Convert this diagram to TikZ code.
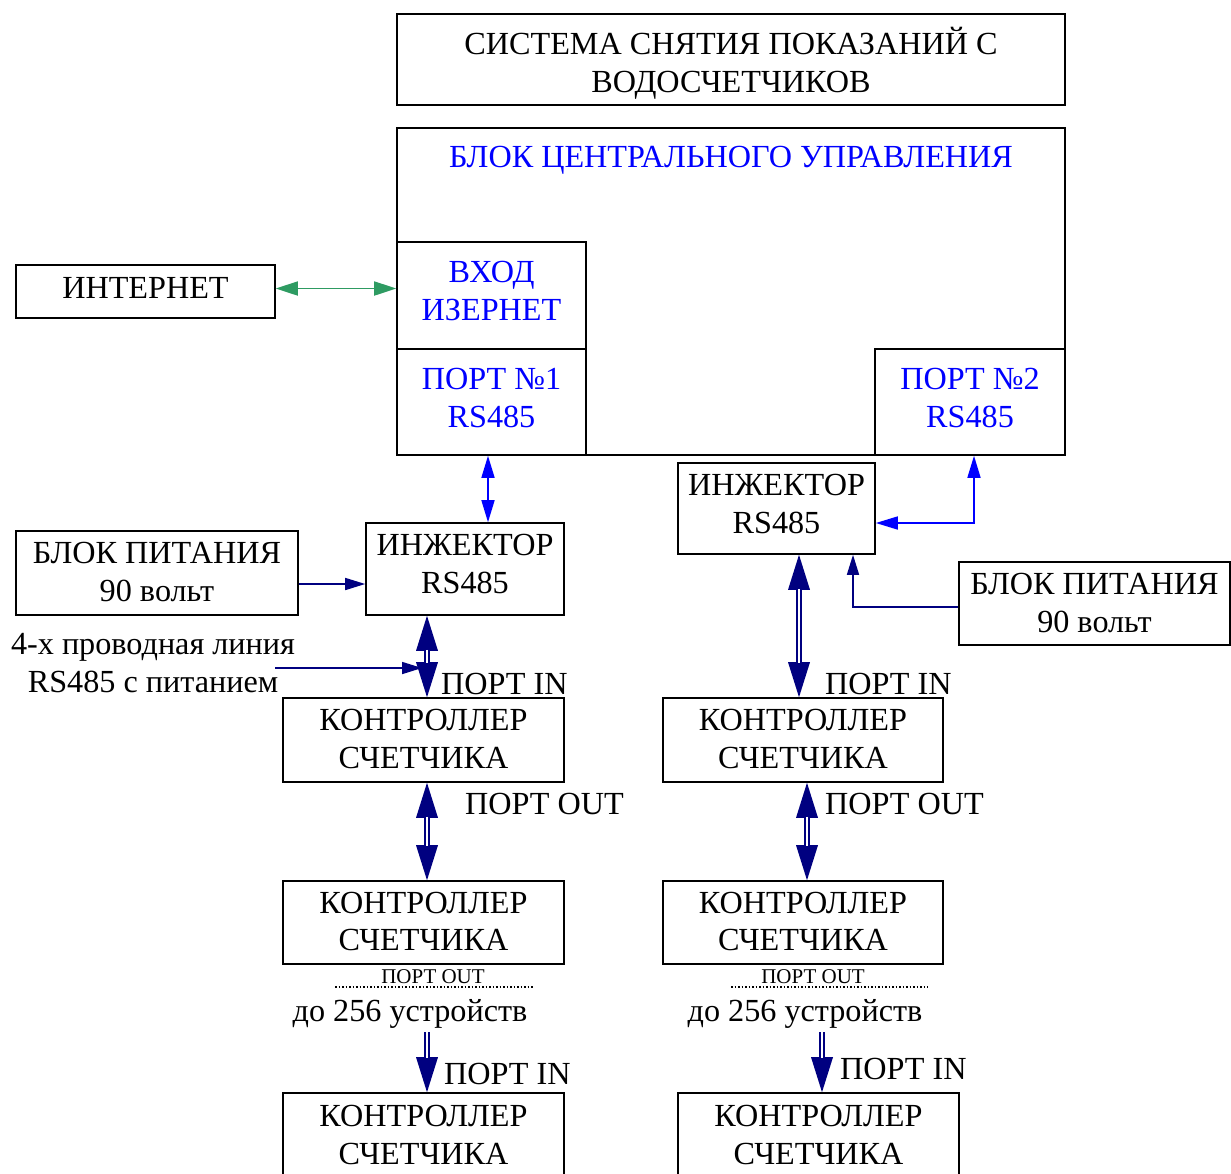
\documentclass[tikz,border=0pt]{standalone}
\usepackage{fontspec}
\setmainfont{Liberation Serif}
\usetikzlibrary{arrows.meta,calc}
\definecolor{navyc}{RGB}{0,0,128}
\definecolor{bluec}{RGB}{0,0,255}
\definecolor{greenc}{RGB}{46,155,98}
\tikzset{
  DT/.tip={Triangle[width=22pt,length=35pt,line width=0pt]},
  BT/.tip={Triangle[width=13pt,length=22pt]},
  NT/.tip={Triangle[width=12pt,length=20pt]},
  GT/.tip={Triangle[width=14pt,length=22pt]}
}
\begin{document}
\begin{tikzpicture}[x=1pt,y=-1pt,
  bigfont/.style={font=\fontsize{32.2}{37.5}\selectfont},
  box/.style={draw=black, line width=1.6pt, inner sep=0pt, align=center, bigfont, text depth=0pt, text height=56pt},
  th/.style={text height=#1},
  bluetext/.style={text=bluec},
  lbl/.style={inner sep=0pt, bigfont, anchor=west},
  smalllbl/.style={inner sep=0pt, font=\fontsize{21}{24}\selectfont},
  dblout/.style={draw=navyc, line width=6pt},
  dblin/.style={draw=white, line width=2pt},
  sdblout/.style={draw=navyc, line width=5.5pt},
  sdblin/.style={draw=white, line width=1.6pt},
  barrow/.style={draw=bluec, line width=1.6pt, BT-BT},
  narrow/.style={draw=navyc, line width=1.6pt, -NT},
  garrow/.style={draw=greenc, line width=1.8pt, GT-GT},
  dots/.style={draw=black, line width=1.5pt, dotted}
]
\useasboundingbox (0,0) rectangle (1231,1173);
\fill[white] (0,0) rectangle (1231,1173);

% top part
\node[box, th=65pt, minimum width=668pt, minimum height=91pt] (title) at (731,59.5) {СИСТЕМА СНЯТИЯ ПОКАЗАНИЙ С\\ВОДОСЧЕТЧИКОВ};
\node[box, th=0pt, minimum width=668pt, minimum height=327pt] (cbu) at (731,291.5) {};
\node[inner sep=0pt, bigfont, bluetext] (cbuT) at (731,160) {БЛОК ЦЕНТРАЛЬНОГО УПРАВЛЕНИЯ};
\node[box, th=49pt, bluetext, minimum width=189pt, minimum height=107pt] (eth) at (491.5,295.5) {ВХОД\\ИЗЕРНЕТ};
\node[box, th=50pt, bluetext, minimum width=189pt, minimum height=106pt] (port1) at (491.5,402) {ПОРТ №1\\RS485};
\node[box, th=50pt, bluetext, minimum width=190pt, minimum height=106pt] (port2) at (970,402) {ПОРТ №2\\RS485};
\node[box, th=14pt, minimum width=259pt, minimum height=53pt] (inet) at (145.5,291.5) {ИНТЕРНЕТ};

% left column
\node[box, th=48pt, minimum width=198pt, minimum height=92pt] (injL) at (465,569) {ИНЖЕКТОР\\RS485};
\node[box, th=56pt, minimum width=282pt, minimum height=84pt] (pwrL) at (157,573) {БЛОК ПИТАНИЯ\\90 вольт};
\node[inner sep=0pt, align=center, bigfont] (wire) at (153,663) {4-х проводная линия\\RS485 с питанием};
\node[box, minimum width=281pt, minimum height=84pt] (c1) at (423.5,740) {КОНТРОЛЛЕР\\СЧЕТЧИКА};
\node[box, minimum width=281pt, minimum height=83pt] (c2) at (423.5,922.5) {КОНТРОЛЛЕР\\СЧЕТЧИКА};
\node[box, th=58pt, minimum width=281pt, minimum height=84pt] (c3) at (423.5,1135) {КОНТРОЛЛЕР\\СЧЕТЧИКА};

% right column
\node[box, th=49pt, minimum width=197pt, minimum height=91pt] (injR) at (776.5,508.5) {ИНЖЕКТОР\\RS485};
\node[box, th=57pt, minimum width=271pt, minimum height=83pt] (pwrR) at (1094.5,603.5) {БЛОК ПИТАНИЯ\\90 вольт};
\node[box, minimum width=280pt, minimum height=84pt] (r1) at (803,740) {КОНТРОЛЛЕР\\СЧЕТЧИКА};
\node[box, minimum width=280pt, minimum height=83pt] (r2) at (803,922.5) {КОНТРОЛЛЕР\\СЧЕТЧИКА};
\node[box, th=58pt, minimum width=281pt, minimum height=84pt] (r3) at (818.5,1135) {КОНТРОЛЛЕР\\СЧЕТЧИКА};

% labels
\node[lbl] (inL1) at (441,684) {ПОРТ IN};
\node[lbl] (outL1) at (465,804) {ПОРТ OUT};
\node[lbl] (inR1) at (825,684) {ПОРТ IN};
\node[lbl] (outR1) at (825,804) {ПОРТ OUT};
\node[lbl] (inL2) at (444,1074) {ПОРТ IN};
\node[lbl] (inR2) at (840,1069) {ПОРТ IN};
\node[smalllbl] (soL) at (433,977) {ПОРТ OUT};
\node[smalllbl] (soR) at (813,977) {ПОРТ OUT};
\node[inner sep=0pt, bigfont, anchor=base] (upL) at (410,1021) {до 256 устройств};
\node[inner sep=0pt, bigfont, anchor=base] (upR) at (805,1021) {до 256 устройств};
\coordinate (dLa) at (335,987); \coordinate (dLb) at (533,987);
\coordinate (dRa) at (731,987); \coordinate (dRb) at (928,987);
\draw[dots] (dLa) -- (dLb);
\draw[dots] (dRa) -- (dRb);

% connectors top
\draw[garrow] ([yshift=3pt]inet.east) -- ([yshift=3pt]inet.east -| cbu.west);
\draw[barrow] ([xshift=-3.5pt]port1.south) -- ([xshift=-3.5pt]port1.south |- injL.north);
\draw[barrow] ([xshift=4pt]port2.south) |- ([yshift=-14.5pt]injR.east);
\draw[narrow] ([yshift=-11pt]pwrL.east) -- ([yshift=-11pt]pwrL.east -| injL.west);
\draw[narrow] ([yshift=-3.5pt]pwrR.west) -| ([xshift=76.5pt]injR.south);

% wire feed
\coordinate (feedA) at (275,668);
\coordinate (feedB) at (422,668);
\draw[narrow] (feedA) -- (feedB);

% double arrows left
\coordinate (aL1) at ([xshift=3.5pt]c1.north |- injL.south);
\draw[dblout, DT-DT] (aL1) -- ([xshift=3.5pt]c1.north);
\draw[dblin, shorten <=34pt, shorten >=34pt] (aL1) -- ([xshift=3.5pt]c1.north);
\draw[dblout, DT-DT] ([xshift=3.5pt]c1.south) -- ([xshift=3.5pt]c2.north);
\draw[dblin, shorten <=34pt, shorten >=34pt] ([xshift=3.5pt]c1.south) -- ([xshift=3.5pt]c2.north);
\coordinate (aL3) at ([xshift=3.5pt]c3.north |- 0,1032);
\draw[sdblout, -DT] (aL3) -- ([xshift=3.5pt]c3.north);
\draw[sdblin, shorten >=34pt] (aL3) -- ([xshift=3.5pt]c3.north);

% double arrows right
\coordinate (aR1) at ([xshift=-4pt]r1.north |- injR.south);
\draw[dblout, DT-DT] (aR1) -- ([xshift=-4pt]r1.north);
\draw[dblin, shorten <=34pt, shorten >=34pt] (aR1) -- ([xshift=-4pt]r1.north);
\draw[dblout, DT-DT] ([xshift=4pt]r1.south) -- ([xshift=4pt]r2.north);
\draw[dblin, shorten <=34pt, shorten >=34pt] ([xshift=4pt]r1.south) -- ([xshift=4pt]r2.north);
\coordinate (aR3) at ([xshift=3.5pt]r3.north |- 0,1032);
\draw[sdblout, -DT] (aR3) -- ([xshift=3.5pt]r3.north);
\draw[sdblin, shorten >=34pt] (aR3) -- ([xshift=3.5pt]r3.north);
\end{tikzpicture}
\end{document}
